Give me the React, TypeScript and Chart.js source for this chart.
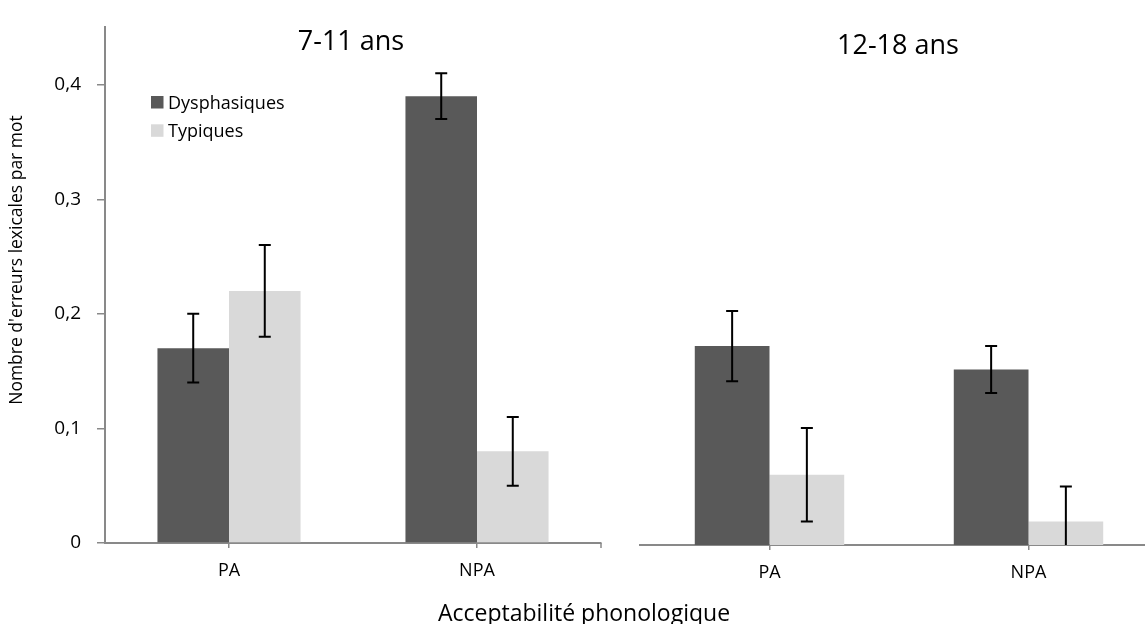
import React, { useEffect, useRef } from "react";
import { Chart, registerables } from "chart.js";

Chart.register(...registerables);

const categories = ["PA", "NPA"];
const seriesNames = ["Dysphasiques", "Typiques"];
const panelTitles = ["7-11 ans", "12-18 ans"];

const dys711 = [0.17, 0.39];
const dys711Err = [0.03, 0.02];
const typ711 = [0.22, 0.08];
const typ711Err = [0.04, 0.03];

const dys1218 = [0.17, 0.15];
const dys1218Err = [0.03, 0.02];
const typ1218 = [0.06, 0.02];
const typ1218Err = [0.04, 0.03];

const yTickValues = [0, 0.1, 0.2, 0.3, 0.4];
const yMax = 0.45;

const yTitle = "Nombre d'erreurs lexicales par mot";
const xTitle = "Acceptabilité phonologique";

const FONT = "'Open Sans', sans-serif";
const DARK = "#595959";
const LIGHT = "#d9d9d9";
const AXIS = "#898989";

const errorBarPlugin = {
  id: "errorBars",
  afterDatasetsDraw(chart: any) {
    const ctx = chart.ctx;
    const ys = chart.scales.y;
    chart.data.datasets.forEach((ds: any, i: number) => {
      const meta = chart.getDatasetMeta(i);
      meta.data.forEach((bar: any, j: number) => {
        const v = ds.data[j];
        const e = ds.errors[j];
        const hi = v + e;
        const loRaw = v - e;
        const lo = Math.max(0, loRaw);
        const x = bar.x;
        const yh = ys.getPixelForValue(hi);
        const yl = ys.getPixelForValue(lo);
        ctx.save();
        ctx.strokeStyle = "#000";
        ctx.lineWidth = 2;
        ctx.beginPath();
        ctx.moveTo(x, yh);
        ctx.lineTo(x, yl);
        ctx.moveTo(x - 6, yh);
        ctx.lineTo(x + 6, yh);
        if (loRaw >= 0) {
          ctx.moveTo(x - 6, yl);
          ctx.lineTo(x + 6, yl);
        }
        ctx.stroke();
        ctx.restore();
      });
    });
  },
};

function makeDecorPlugin(kind: "left" | "right") {
  return {
    id: "decor_" + kind,
    afterDraw(chart: any) {
      const ctx = chart.ctx;
      const area = chart.chartArea;
      ctx.save();
      ctx.fillStyle = "#000";
      ctx.textBaseline = "alphabetic";
      ctx.textAlign = "center";
      ctx.font = "27px " + FONT;
      if (kind === "left") {
        ctx.fillText(panelTitles[0], 351, 50);
        // end tick of the x axis
        ctx.strokeStyle = AXIS;
        ctx.lineWidth = 1.5;
        ctx.beginPath();
        ctx.moveTo(area.right, area.bottom);
        ctx.lineTo(area.right, area.bottom + 5);
        ctx.stroke();
        // legend
        const colors = [DARK, LIGHT];
        ctx.textAlign = "left";
        ctx.font = "18px " + FONT;
        seriesNames.forEach((name, i) => {
          const top = 96 + i * 28.3;
          ctx.fillStyle = colors[i];
          ctx.fillRect(151, top, 12.5, 12.5);
          ctx.fillStyle = "#000";
          ctx.fillText(name, 168, top + 12.6);
        });
        // y title
        ctx.save();
        ctx.translate(17, 260);
        ctx.rotate(-Math.PI / 2);
        ctx.textAlign = "center";
        ctx.textBaseline = "middle";
        ctx.font = "17.5px " + FONT;
        ctx.fillText(yTitle, 0, 0);
        ctx.restore();
      } else {
        ctx.fillText(panelTitles[1], 278, 54);
      }
      ctx.restore();
    },
  };
}

function buildConfig(
  dys: number[],
  dysErr: number[],
  typ: number[],
  typErr: number[],
  kind: "left" | "right"
): any {
  const isLeft = kind === "left";
  return {
    type: "bar",
    data: {
      labels: categories,
      datasets: [
        {
          label: seriesNames[0],
          data: dys,
          errors: dysErr,
          backgroundColor: DARK,
          borderWidth: 0,
        },
        {
          label: seriesNames[1],
          data: typ,
          errors: typErr,
          backgroundColor: LIGHT,
          borderWidth: 0,
        },
      ],
    },
    options: {
      responsive: false,
      animation: false,
      devicePixelRatio: 1,
      datasets: {
        bar: { categoryPercentage: 0.577, barPercentage: 1 },
      },
      layout: {
        padding: isLeft
          ? { left: 0, top: 16, right: 19, bottom: 0 }
          : { left: 20, top: 18.5, right: 2, bottom: 0 },
      },
      plugins: {
        legend: { display: false },
        tooltip: { enabled: false },
        title: { display: false },
      },
      scales: {
        x: {
          type: "category",
          grid: {
            offset: false,
            drawOnChartArea: false,
            drawTicks: true,
            tickLength: 5,
            color: AXIS,
            lineWidth: 1.5,
          },
          border: { display: true, color: AXIS, width: 2 },
          ticks: {
            color: "#000",
            font: { family: FONT, size: 18 },
            padding: 12,
            maxRotation: 0,
          },
          afterFit: (s: any) => {
            s.height = isLeft ? 81 : 79;
          },
        },
        y: {
          display: isLeft,
          min: 0,
          max: yMax,
          grid: {
            drawOnChartArea: false,
            drawTicks: true,
            tickLength: 8,
            color: AXIS,
            lineWidth: 1.5,
          },
          border: { display: true, color: AXIS, width: 2 },
          ticks: {
            stepSize: 0.1,
            color: "#000",
            font: { family: FONT, size: 19 },
            padding: 16,
            callback: (v: any) =>
              v === 0 ? "0" : Number(v).toFixed(1).replace(".", ","),
          },
          afterBuildTicks: (s: any) => {
            s.ticks = yTickValues.map((v) => ({ value: v }));
          },
          afterFit: (s: any) => {
            s.width = isLeft ? 105 : 0;
          },
        },
      },
    },
    plugins: [errorBarPlugin, makeDecorPlugin(kind)],
  };
}

function Panel(props: {
  left: number;
  width: number;
  kind: "left" | "right";
  dys: number[];
  dysErr: number[];
  typ: number[];
  typErr: number[];
}) {
  const ref = useRef<HTMLCanvasElement | null>(null);
  useEffect(() => {
    if (!ref.current) return;
    const chart = new Chart(
      ref.current,
      buildConfig(props.dys, props.dysErr, props.typ, props.typErr, props.kind)
    );
    return () => chart.destroy();
  }, []);
  return (
    <div
      style={{
        position: "absolute",
        left: props.left,
        top: 0,
        width: props.width,
        height: 624,
      }}
    >
      <canvas
        ref={ref}
        width={props.width}
        height={624}
        style={{ display: "block", width: props.width, height: 624 }}
      />
    </div>
  );
}

export default function App() {
  return (
    <div
      style={{
        position: "fixed",
        left: 0,
        top: 0,
        width: 1145,
        height: 624,
        overflow: "hidden",
        background: "#fff",
      }}
    >
      <Panel
        left={0}
        width={620}
        kind="left"
        dys={dys711}
        dysErr={dys711Err}
        typ={typ711}
        typErr={typ711Err}
      />
      <Panel
        left={620}
        width={540}
        kind="right"
        dys={dys1218}
        dysErr={dys1218Err}
        typ={typ1218}
        typErr={typ1218Err}
      />
      <div
        style={{
          position: "absolute",
          left: 334,
          top: 597,
          width: 500,
          textAlign: "center",
          fontFamily: FONT,
          fontSize: 23,
          lineHeight: "30px",
          color: "#000",
          whiteSpace: "nowrap",
        }}
      >
        {xTitle}
      </div>
    </div>
  );
}
